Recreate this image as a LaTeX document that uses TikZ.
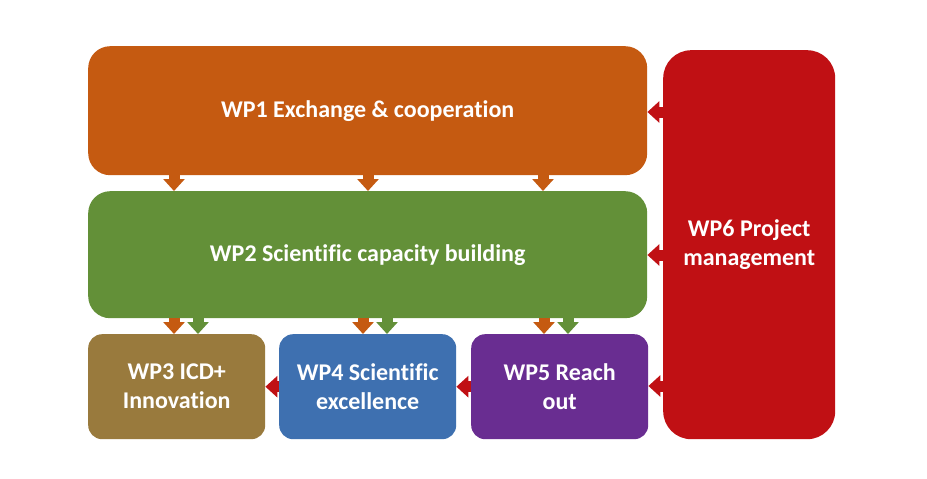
\documentclass[tikz,border=0pt]{standalone}
\usepackage{fontspec}
\setmainfont{Carlito}[Ligatures={NoCommon}]
\usetikzlibrary{arrows.meta}
\definecolor{cwpone}{RGB}{197,90,17}
\definecolor{cwptwo}{RGB}{99,144,56}
\definecolor{cwpthree}{RGB}{153,122,61}
\definecolor{cwpfour}{RGB}{62,112,176}
\definecolor{cwpfive}{RGB}{105,45,145}
\definecolor{cwpsix}{RGB}{192,16,20}
\tikzset{
  wp/.style={rounded corners=#1, inner sep=0pt, text=white, font=\bfseries\fontsize{24}{29}\selectfont, align=center, anchor=north west},
  blk/.style={line width=11pt, -{Triangle[width=21pt,length=12pt]}},
}
\begin{document}
\begin{tikzpicture}[x=1pt,y=-1pt]
\useasboundingbox (0,0) rectangle (927,479);
\fill[white] (0,0) rectangle (927,479);
% boxes
\node[wp=22pt, fill=cwpone, minimum width=559pt, minimum height=129pt] (wp1) at (88,46) {WP1 Exchange \& cooperation};
\node[wp=22pt, fill=cwptwo, minimum width=559pt, minimum height=127pt] (wp2) at (88,191) {WP2 Scientific capacity building};
\node[wp=14pt, fill=cwpthree, minimum width=177pt, minimum height=105pt] (wp3) at (88,334) {WP3 ICD+\\Innovation};
\node[wp=14pt, fill=cwpfour, minimum width=177pt, minimum height=105pt] (wp4) at (279,334) {WP4 Scientific\\excellence};
\node[wp=14pt, fill=cwpfive, minimum width=177pt, minimum height=105pt] (wp5) at (471,334) {WP5 Reach\\out};
\node[wp=28pt, fill=cwpsix, minimum width=172pt, minimum height=389pt] (wp6) at (663,50) {WP6 Project\\management};
% WP1 -> WP2
\foreach \x in {174,368,543}
  \draw[blk, cwpone] (\x,0 |- wp1.south) -- (\x,0 |- wp2.north);
% WP1/WP2 -> bottom row
\draw[blk, cwpone] (174,0 |- wp2.south) -- (174,0 |- wp3.north);
\draw[blk, cwptwo] (198,0 |- wp2.south) -- (198,0 |- wp3.north);
\draw[blk, cwpone] (363,0 |- wp2.south) -- (363,0 |- wp4.north);
\draw[blk, cwptwo] (387,0 |- wp2.south) -- (387,0 |- wp4.north);
\draw[blk, cwpone] (544,0 |- wp2.south) -- (544,0 |- wp5.north);
\draw[blk, cwptwo] (568,0 |- wp2.south) -- (568,0 |- wp5.north);
% leftward red arrows
\draw[blk, cwpsix] (wp4.west) -- (wp3.east);
\draw[blk, cwpsix] (wp5.west) -- (wp4.east);
\draw[blk, cwpsix] (wp6.west |- 0,112) -- (wp1.east |- 0,112);
\draw[blk, cwpsix] (wp6.west |- 0,255) -- (wp2.east |- 0,255);
\draw[blk, cwpsix] (wp6.west |- 0,386) -- (wp5.east |- 0,386);
\end{tikzpicture}
\end{document}
